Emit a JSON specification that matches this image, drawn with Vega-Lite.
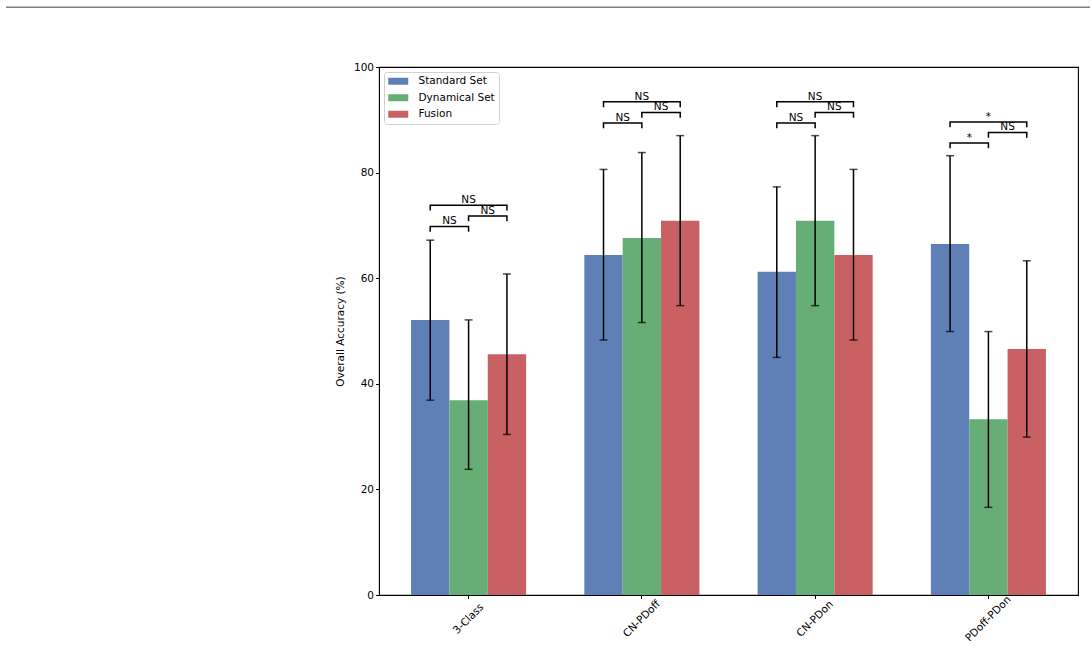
{
  "$schema": "https://vega.github.io/schema/vega-lite/v6.json",
  "width": 699,
  "height": 528,
  "autosize": {"type": "none"},
  "padding": {"left": 379, "top": 67, "right": 14, "bottom": 62},
  "background": "white",
  "config": {
    "font": "DejaVu Sans",
    "view": {"stroke": "black", "strokeWidth": 1.1},
    "axis": {"labelFont": "DejaVu Sans", "titleFont": "DejaVu Sans", "labelFontSize": 10.5, "titleFontSize": 10.5, "titleFontWeight": "normal", "labelColor": "black", "titleColor": "black", "tickColor": "black", "domainColor": "black", "tickSize": 3.5, "tickWidth": 1, "grid": false}
  },
  "datasets": {
    "bars": [
      {"group": "3-Class", "series": "Standard Set", "value": 52.1, "lo": 36.9, "hi": 67.2},
      {"group": "3-Class", "series": "Dynamical Set", "value": 36.9, "lo": 23.8, "hi": 52.1},
      {"group": "3-Class", "series": "Fusion", "value": 45.6, "lo": 30.4, "hi": 60.8},
      {"group": "CN-PDoff", "series": "Standard Set", "value": 64.4, "lo": 48.3, "hi": 80.6},
      {"group": "CN-PDoff", "series": "Dynamical Set", "value": 67.6, "lo": 51.6, "hi": 83.8},
      {"group": "CN-PDoff", "series": "Fusion", "value": 70.9, "lo": 54.8, "hi": 87.0},
      {"group": "CN-PDon", "series": "Standard Set", "value": 61.2, "lo": 45.0, "hi": 77.3},
      {"group": "CN-PDon", "series": "Dynamical Set", "value": 70.9, "lo": 54.8, "hi": 87.0},
      {"group": "CN-PDon", "series": "Fusion", "value": 64.4, "lo": 48.3, "hi": 80.6},
      {"group": "PDoff-PDon", "series": "Standard Set", "value": 66.5, "lo": 49.9, "hi": 83.2},
      {"group": "PDoff-PDon", "series": "Dynamical Set", "value": 33.3, "lo": 16.6, "hi": 49.9},
      {"group": "PDoff-PDon", "series": "Fusion", "value": 46.6, "lo": 29.9, "hi": 63.3}
    ],
    "brackets": [
      {"group": "3-Class", "br": "a1", "series": "Standard Set", "y": 68.8, "o": 0},
      {"group": "3-Class", "br": "a1", "series": "Standard Set", "y": 69.8, "o": 1},
      {"group": "3-Class", "br": "a1", "series": "Dynamical Set", "y": 69.8, "o": 2},
      {"group": "3-Class", "br": "a1", "series": "Dynamical Set", "y": 68.8, "o": 3},
      {"group": "3-Class", "br": "a2", "series": "Dynamical Set", "y": 70.8, "o": 0},
      {"group": "3-Class", "br": "a2", "series": "Dynamical Set", "y": 71.8, "o": 1},
      {"group": "3-Class", "br": "a2", "series": "Fusion", "y": 71.8, "o": 2},
      {"group": "3-Class", "br": "a2", "series": "Fusion", "y": 70.8, "o": 3},
      {"group": "3-Class", "br": "a3", "series": "Standard Set", "y": 72.8, "o": 0},
      {"group": "3-Class", "br": "a3", "series": "Standard Set", "y": 73.8, "o": 1},
      {"group": "3-Class", "br": "a3", "series": "Fusion", "y": 73.8, "o": 2},
      {"group": "3-Class", "br": "a3", "series": "Fusion", "y": 72.8, "o": 3},
      {"group": "CN-PDoff", "br": "b1", "series": "Standard Set", "y": 88.4, "o": 0},
      {"group": "CN-PDoff", "br": "b1", "series": "Standard Set", "y": 89.4, "o": 1},
      {"group": "CN-PDoff", "br": "b1", "series": "Dynamical Set", "y": 89.4, "o": 2},
      {"group": "CN-PDoff", "br": "b1", "series": "Dynamical Set", "y": 88.4, "o": 3},
      {"group": "CN-PDoff", "br": "b2", "series": "Dynamical Set", "y": 90.4, "o": 0},
      {"group": "CN-PDoff", "br": "b2", "series": "Dynamical Set", "y": 91.4, "o": 1},
      {"group": "CN-PDoff", "br": "b2", "series": "Fusion", "y": 91.4, "o": 2},
      {"group": "CN-PDoff", "br": "b2", "series": "Fusion", "y": 90.4, "o": 3},
      {"group": "CN-PDoff", "br": "b3", "series": "Standard Set", "y": 92.4, "o": 0},
      {"group": "CN-PDoff", "br": "b3", "series": "Standard Set", "y": 93.4, "o": 1},
      {"group": "CN-PDoff", "br": "b3", "series": "Fusion", "y": 93.4, "o": 2},
      {"group": "CN-PDoff", "br": "b3", "series": "Fusion", "y": 92.4, "o": 3},
      {"group": "CN-PDon", "br": "c1", "series": "Standard Set", "y": 88.4, "o": 0},
      {"group": "CN-PDon", "br": "c1", "series": "Standard Set", "y": 89.4, "o": 1},
      {"group": "CN-PDon", "br": "c1", "series": "Dynamical Set", "y": 89.4, "o": 2},
      {"group": "CN-PDon", "br": "c1", "series": "Dynamical Set", "y": 88.4, "o": 3},
      {"group": "CN-PDon", "br": "c2", "series": "Dynamical Set", "y": 90.4, "o": 0},
      {"group": "CN-PDon", "br": "c2", "series": "Dynamical Set", "y": 91.4, "o": 1},
      {"group": "CN-PDon", "br": "c2", "series": "Fusion", "y": 91.4, "o": 2},
      {"group": "CN-PDon", "br": "c2", "series": "Fusion", "y": 90.4, "o": 3},
      {"group": "CN-PDon", "br": "c3", "series": "Standard Set", "y": 92.4, "o": 0},
      {"group": "CN-PDon", "br": "c3", "series": "Standard Set", "y": 93.4, "o": 1},
      {"group": "CN-PDon", "br": "c3", "series": "Fusion", "y": 93.4, "o": 2},
      {"group": "CN-PDon", "br": "c3", "series": "Fusion", "y": 92.4, "o": 3},
      {"group": "PDoff-PDon", "br": "d1", "series": "Standard Set", "y": 84.6, "o": 0},
      {"group": "PDoff-PDon", "br": "d1", "series": "Standard Set", "y": 85.6, "o": 1},
      {"group": "PDoff-PDon", "br": "d1", "series": "Dynamical Set", "y": 85.6, "o": 2},
      {"group": "PDoff-PDon", "br": "d1", "series": "Dynamical Set", "y": 84.6, "o": 3},
      {"group": "PDoff-PDon", "br": "d2", "series": "Dynamical Set", "y": 86.6, "o": 0},
      {"group": "PDoff-PDon", "br": "d2", "series": "Dynamical Set", "y": 87.6, "o": 1},
      {"group": "PDoff-PDon", "br": "d2", "series": "Fusion", "y": 87.6, "o": 2},
      {"group": "PDoff-PDon", "br": "d2", "series": "Fusion", "y": 86.6, "o": 3},
      {"group": "PDoff-PDon", "br": "d3", "series": "Standard Set", "y": 88.6, "o": 0},
      {"group": "PDoff-PDon", "br": "d3", "series": "Standard Set", "y": 89.6, "o": 1},
      {"group": "PDoff-PDon", "br": "d3", "series": "Fusion", "y": 89.6, "o": 2},
      {"group": "PDoff-PDon", "br": "d3", "series": "Fusion", "y": 88.6, "o": 3}
    ],
    "adjLabels": [
      {"group": "3-Class", "anchor": "Standard Set", "y": 69.8, "label": "NS"},
      {"group": "3-Class", "anchor": "Dynamical Set", "y": 71.8, "label": "NS"},
      {"group": "CN-PDoff", "anchor": "Standard Set", "y": 89.4, "label": "NS"},
      {"group": "CN-PDoff", "anchor": "Dynamical Set", "y": 91.4, "label": "NS"},
      {"group": "CN-PDon", "anchor": "Standard Set", "y": 89.4, "label": "NS"},
      {"group": "CN-PDon", "anchor": "Dynamical Set", "y": 91.4, "label": "NS"},
      {"group": "PDoff-PDon", "anchor": "Standard Set", "y": 85.6, "label": "*"},
      {"group": "PDoff-PDon", "anchor": "Dynamical Set", "y": 87.6, "label": "NS"}
    ],
    "spanLabels": [
      {"group": "3-Class", "anchor": "Dynamical Set", "y": 73.8, "label": "NS"},
      {"group": "CN-PDoff", "anchor": "Dynamical Set", "y": 93.4, "label": "NS"},
      {"group": "CN-PDon", "anchor": "Dynamical Set", "y": 93.4, "label": "NS"},
      {"group": "PDoff-PDon", "anchor": "Dynamical Set", "y": 89.6, "label": "*"}
    ]
  },
  "encoding": {
    "x": {
      "field": "group", "type": "nominal",
      "sort": ["3-Class", "CN-PDoff", "CN-PDon", "PDoff-PDon"],
      "scale": {"paddingInner": 0.336, "paddingOuter": 0.185},
      "axis": {"title": null, "labelAngle": -45, "labelAlign": "center", "labelBaseline": "middle", "labelPadding": 20}
    }
  },
  "layer": [
    {
      "data": {"name": "bars"},
      "mark": {"type": "bar", "opacity": 1},
      "encoding": {
        "xOffset": {"field": "series", "type": "nominal", "scale": {"domain": ["Standard Set", "Dynamical Set", "Fusion"], "paddingInner": 0, "paddingOuter": 0}},
        "y": {"field": "value", "type": "quantitative", "scale": {"domain": [0, 100], "nice": false}, "axis": {"title": "Overall Accuracy (%)", "values": [0, 20, 40, 60, 80, 100], "titlePadding": 8}},
        "color": {
          "field": "series", "type": "nominal",
          "scale": {"domain": ["Standard Set", "Dynamical Set", "Fusion"], "range": ["#5f80b7", "#66ae76", "#c96064"]},
          "legend": {
            "title": null, "orient": "top-left", "offset": 5,
            "symbolType": "M-1,-0.7L3,-0.7L3,0.7L-1,0.7Z", "symbolSize": 100, "symbolStrokeWidth": 0, "symbolOpacity": 1,
            "labelFontSize": 10.5, "labelFont": "DejaVu Sans", "labelColor": "black", "labelOffset": 20,
            "rowPadding": 5.5, "padding": 4, "strokeColor": "#d0d0d0", "fillColor": "white", "cornerRadius": 3
          }
        }
      }
    },
    {
      "data": {"name": "bars"},
      "mark": {"type": "rule", "color": "black", "strokeWidth": 1.5},
      "encoding": {
        "xOffset": {"field": "series", "type": "nominal", "scale": {"domain": ["Standard Set", "Dynamical Set", "Fusion"]}},
        "y": {"field": "lo", "type": "quantitative"},
        "y2": {"field": "hi"}
      }
    },
    {
      "data": {"name": "bars"},
      "mark": {"type": "tick", "color": "black", "size": 8, "thickness": 1.5, "orient": "horizontal"},
      "encoding": {
        "xOffset": {"field": "series", "type": "nominal", "scale": {"domain": ["Standard Set", "Dynamical Set", "Fusion"]}},
        "y": {"field": "lo", "type": "quantitative"}
      }
    },
    {
      "data": {"name": "bars"},
      "mark": {"type": "tick", "color": "black", "size": 8, "thickness": 1.5, "orient": "horizontal"},
      "encoding": {
        "xOffset": {"field": "series", "type": "nominal", "scale": {"domain": ["Standard Set", "Dynamical Set", "Fusion"]}},
        "y": {"field": "hi", "type": "quantitative"}
      }
    },
    {
      "data": {"name": "brackets"},
      "mark": {"type": "line", "color": "black", "strokeWidth": 1.5},
      "encoding": {
        "xOffset": {"field": "series", "type": "nominal", "scale": {"domain": ["Standard Set", "Dynamical Set", "Fusion"]}},
        "y": {"field": "y", "type": "quantitative"},
        "detail": {"field": "br"},
        "order": {"field": "o", "type": "quantitative"}
      }
    },
    {
      "data": {"name": "adjLabels"},
      "mark": {"type": "text", "fontSize": 10.5, "baseline": "bottom", "align": "center", "dx": 19.2, "color": "black"},
      "encoding": {
        "xOffset": {"field": "anchor", "type": "nominal", "scale": {"domain": ["Standard Set", "Dynamical Set", "Fusion"]}},
        "y": {"field": "y", "type": "quantitative"},
        "text": {"field": "label"}
      }
    },
    {
      "data": {"name": "spanLabels"},
      "mark": {"type": "text", "fontSize": 10.5, "baseline": "bottom", "align": "center", "color": "black"},
      "encoding": {
        "xOffset": {"field": "anchor", "type": "nominal", "scale": {"domain": ["Standard Set", "Dynamical Set", "Fusion"]}},
        "y": {"field": "y", "type": "quantitative"},
        "text": {"field": "label"}
      }
    },
    {
      "data": {"values": [{}]},
      "mark": {"type": "rule", "color": "#808080", "strokeWidth": 1.5, "clip": false},
      "encoding": {
        "y": {"datum": 111.3, "type": "quantitative"},
        "x": {"value": -373},
        "x2": {"value": 711}
      }
    }
  ]
}
